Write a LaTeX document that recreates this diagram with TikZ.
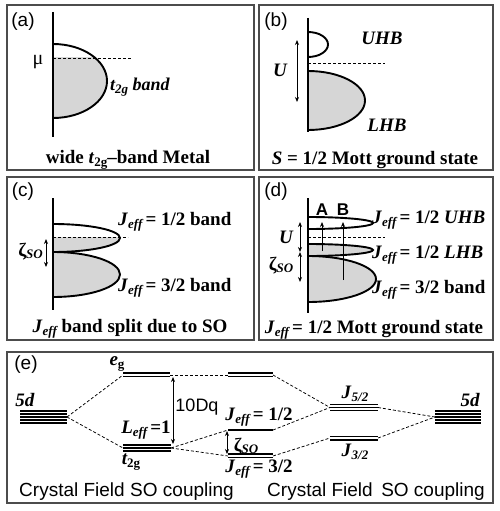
\documentclass[tikz,border=0pt]{standalone}
\usepackage{fontspec}
\setmainfont{Liberation Serif}
\setsansfont{Liberation Sans}
\usetikzlibrary{arrows.meta}
\newcommand\lowsub[1]{\raisebox{-0.35ex}{\fontsize{13}{13}\selectfont #1}}
\newcommand\Jeff{\textit{J}\lowsub{\itshape eff}}
\begin{document}
\begin{tikzpicture}[x=1pt,y=-1pt,
 panel/.style={draw=black!70, line width=1.2pt},
 axis/.style={line width=2pt},
 bandline/.style={line width=1.9pt},
 bandfill/.style={fill=black!16},
 fermi/.style={line width=0.7pt, dash pattern=on 3pt off 2pt},
 dbl/.style={{Stealth[length=5pt,width=4pt]}-{Stealth[length=5pt,width=4pt]}, line width=0.8pt},
 sarr/.style={-{Stealth[length=5pt,width=4pt]}, line width=0.8pt},
 lbl/.style={font=\fontsize{19}{21}\selectfont\bfseries, inner sep=0},
 plbl/.style={font=\sffamily\fontsize{19}{21}\selectfont, inner sep=0},
 zeta/.style={inner sep=0,font=\bfseries},
 lev/.style={line width=1.5pt},
 conn/.style={line width=0.75pt, dash pattern=on 3pt off 2pt}
]
\useasboundingbox (0,0) rectangle (500,511);
\fill[white] (0,0) rectangle (500,511);

% panels
\draw[panel] (7,5) rectangle (254,170);
\draw[panel] (259,5) rectangle (493,170);
\draw[panel] (7,177) rectangle (254,340);
\draw[panel] (259,177) rectangle (493,340);
\draw[panel] (7,352) rectangle (493,503);

% ---------- (a)
\node[plbl] (la) at (23,22) {(a)};
\begin{scope}
\clip (53,58) rectangle (140,130);
\fill[bandfill] (53,81) ellipse[x radius=54,y radius=37];
\end{scope}
\draw[bandline] (53,44) arc[start angle=-90,end angle=90,x radius=54,y radius=37];
\coordinate (aF1) at (53,58); \coordinate (aF2) at (132,58);
\draw[fermi] (aF1) -- (aF2);
\coordinate (aX1) at (53,12); \coordinate (aX2) at (53,137);
\draw[axis] (aX1) -- (aX2);
\node[inner sep=0,font=\fontsize{20}{20}\selectfont] (mu) at (38,62) {μ};
\node[lbl,anchor=west,font=\fontsize{18}{20}\selectfont\bfseries] (at2g) at (110,87) {\itshape t\lowsub{2g} band};
\node[lbl] (capa) at (128,160) {wide \textit{t}\lowsub{2g}–band Metal};

% ---------- (b)
\node[plbl] (lb) at (276,22) {(b)};
\fill[bandfill] (308,71) arc[start angle=-90,end angle=90,x radius=57,y radius=29.5] -- cycle;
\draw[bandline] (308,71) arc[start angle=-90,end angle=90,x radius=57,y radius=29.5];
\draw[bandline] (308,32) arc[start angle=-90,end angle=90,x radius=20,y radius=12.5];
\coordinate (bF1) at (308,63); \coordinate (bF2) at (385,63);
\draw[fermi] (bF1) -- (bF2);
\coordinate (bX1) at (308,18); \coordinate (bX2) at (308,132);
\draw[axis] (bX1) -- (bX2);
\coordinate (bU1) at (297,40); \coordinate (bU2) at (297,102);
\draw[dbl] (bU1) -- (bU2);
\node[lbl] (bU) at (280,70) {\itshape U};
\node[lbl] (bUHB) at (382,38) {\itshape UHB};
\node[lbl] (bLHB) at (387,125) {\itshape LHB};
\node[lbl] (capb) at (375,160) {\textit{S} = 1/2 Mott ground state};

% ---------- (c)
\node[plbl] (lc) at (23,192) {(c)};
\begin{scope}
\clip (53,237) rectangle (130,260);
\fill[bandfill] (53,238) ellipse[x radius=67,y radius=14];
\end{scope}
\fill[bandfill] (53,252) arc[start angle=-90,end angle=90,x radius=67,y radius=22.5] -- cycle;
\draw[bandline] (53,224) arc[start angle=-90,end angle=90,x radius=67,y radius=14];
\draw[bandline] (53,252) arc[start angle=-90,end angle=90,x radius=67,y radius=22.5];
\coordinate (cF1) at (53,237); \coordinate (cF2) at (128,237);
\draw[fermi] (cF1) -- (cF2);
\coordinate (cX1) at (53,198); \coordinate (cX2) at (53,310);
\draw[axis] (cX1) -- (cX2);
\coordinate (cZ1) at (46,239); \coordinate (cZ2) at (46,267);
\draw[dbl] (cZ1) -- (cZ2);
\node[zeta,anchor=east] (cZ) at (43,252) {{\fontsize{19}{19}\selectfont ζ}\lowsub{\itshape SO}};
\node[lbl,anchor=west] (cJ1) at (118,222) {\Jeff\,= 1/2 band};
\node[lbl,anchor=west] (cJ3) at (118,288) {\Jeff\,= 3/2 band};
\node[lbl] (capc) at (130,329) {\Jeff\ band split due to SO};

% ---------- (d)
\node[plbl] (ld) at (276,192) {(d)};
\fill[bandfill] (308,244) arc[start angle=-90,end angle=90,x radius=65,y radius=6] -- cycle;
\fill[bandfill] (308,256) arc[start angle=-90,end angle=90,x radius=68,y radius=23] -- cycle;
\draw[bandline] (308,217) arc[start angle=-90,end angle=90,x radius=65,y radius=6];
\draw[bandline] (308,244) arc[start angle=-90,end angle=90,x radius=65,y radius=6];
\draw[bandline] (308,256) arc[start angle=-90,end angle=90,x radius=68,y radius=23];
\coordinate (dF1) at (308,237); \coordinate (dF2) at (385,237);
\draw[fermi] (dF1) -- (dF2);
\coordinate (dX1) at (308,198); \coordinate (dX2) at (308,313);
\draw[axis] (dX1) -- (dX2);
\coordinate (dA1) at (322,251); \coordinate (dA2) at (322,222);
\coordinate (dB1) at (343,280); \coordinate (dB2) at (343,222);
\draw[sarr] (dA1) -- (dA2);
\draw[sarr] (dB1) -- (dB2);
\node[inner sep=0,font=\sffamily\bfseries\fontsize{17}{18}\selectfont] (dA) at (322,210) {A};
\node[inner sep=0,font=\sffamily\bfseries\fontsize{17}{18}\selectfont] (dB) at (343,210) {B};
\coordinate (dU1) at (300,222); \coordinate (dU2) at (300,252); \coordinate (dZ2) at (300,282);
\draw[dbl] (dU1) -- (dU2);
\draw[dbl] (dU2) -- (dZ2);
\node[lbl] (dU) at (286,237) {\itshape U};
\node[zeta] (dZ) at (281,266) {{\fontsize{19}{19}\selectfont ζ}\lowsub{\itshape SO}};
\node[lbl,anchor=west] (dJ1) at (372,220) {\Jeff\,= 1/2 \textit{UHB}};
\node[lbl,anchor=west] (dJ2) at (372,255) {\Jeff\,= 1/2 \textit{LHB}};
\node[lbl,anchor=west] (dJ3) at (372,290) {\Jeff\,= 3/2 band};
\node[lbl] (capd) at (374,330) {\Jeff\,= 1/2 Mott ground state};

% ---------- (e)
\node[plbl] (le) at (26,365) {(e)};
% left 5d
\foreach \y in {411,414,417,420,423} \draw[lev] (20,\y) -- (67,\y);
\coordinate (d5a) at (67,417);
\node[lbl] (l5d) at (25,400) {\itshape 5d};
% eg
\foreach \y in {373,376.5} \draw[lev] (123,\y) -- (170,\y);
\coordinate (egL) at (123,375); \coordinate (egR) at (170,375);
\node[lbl] (leg) at (117,364) {\itshape e\lowsub{\upshape g}};
% t2g
\foreach \y in {445,448,451} \draw[lev] (123,\y) -- (171,\y);
\coordinate (tL) at (123,448); \coordinate (tR) at (171,448);
\node[lbl] (lt2g) at (131,462) {\itshape t\lowsub{\upshape 2g}};
\node[lbl] (lLeff) at (146,430) {\textit{L}\lowsub{\itshape eff}\,=1};
% 10Dq
\coordinate (dq1) at (173,377); \coordinate (dq2) at (173,444);
\draw[dbl] (dq1) -- (dq2);
\node[inner sep=0,font=\sffamily\fontsize{18}{20}\selectfont] (l10) at (197,407) {10Dq};
% second eg
\foreach \y in {373,376.5} \draw[lev] (228,\y) -- (273,\y);
\coordinate (eg2L) at (228,375); \coordinate (eg2R) at (273,375);
% J=1/2
\draw[line width=1.8pt] (228,430) -- (273,430);
\coordinate (j1L) at (228,430); \coordinate (j1R) at (273,430);
% J=3/2
\foreach \y in {454,457.5} \draw[lev] (228,\y) -- (273,\y);
\coordinate (j3L) at (228,456); \coordinate (j3R) at (273,456);
\coordinate (ez1) at (227,431); \coordinate (ez2) at (227,454);
\draw[dbl] (ez1) -- (ez2);
\node[zeta] (eZ) at (246,447) {{\fontsize{19}{19}\selectfont ζ}\lowsub{\itshape SO}};
\node[lbl] (eJ1) at (259,417) {\Jeff\,= 1/2};
\node[lbl] (eJ3) at (259,469) {\Jeff\,= 3/2};
% J5/2 and J3/2
\foreach \y in {404.5,407.5,410.5} \draw[lev] (330,\y) -- (378,\y);
\coordinate (j5L) at (330,407.5); \coordinate (j5R) at (378,407.5);
\foreach \y in {436.5,440} \draw[lev] (330,\y) -- (378,\y);
\coordinate (k3L) at (330,438); \coordinate (k3R) at (378,438);
\node[lbl] (lJ5) at (355,394) {\textit{J}\lowsub{\itshape 5/2}};
\node[lbl] (lJ3) at (355,452) {\textit{J}\lowsub{\itshape 3/2}};
% right 5d
\foreach \y in {411,414,417,420,423} \draw[lev] (435,\y) -- (481,\y);
\coordinate (d5b) at (435,417);
\node[lbl] (r5d) at (470,400) {\itshape 5d};
% connectors
\draw[conn] (d5a) -- (egL);
\draw[conn] (d5a) -- (tL);
\draw[conn] (egR) -- (eg2L);
\draw[conn] (tR) -- (j1L);
\draw[conn] (tR) -- (j3L);
\draw[conn] (eg2R) -- (j5L);
\draw[conn] (j1R) -- (j5L);
\draw[conn] (j3R) -- (k3L);
\draw[conn] (j5R) -- (d5b);
\draw[conn] (k3R) -- (d5b);
% bottom captions
\node[plbl] (cf1) at (72,492) {Crystal Field};
\node[plbl] (so1) at (182,492) {SO coupling};
\node[plbl] (cf2) at (320,492) {Crystal Field};
\node[plbl] (so2) at (433,492) {SO coupling};
\end{tikzpicture}
\end{document}
